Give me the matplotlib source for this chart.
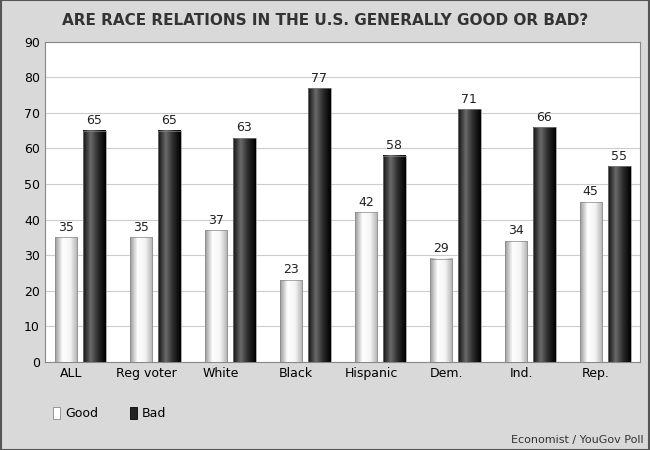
import numpy as np
import matplotlib.pyplot as plt
from matplotlib.colors import LinearSegmentedColormap

categories = ['ALL', 'Reg voter', 'White', 'Black', 'Hispanic', 'Dem.', 'Ind.', 'Rep.']
good = [35, 35, 37, 23, 42, 29, 34, 45]
bad = [65, 65, 63, 77, 58, 71, 66, 55]

fig = plt.figure(figsize=(6.5, 4.5), dpi=100, facecolor='#d9d9d9')
ax = fig.add_axes([0.069, 0.196, 0.916, 0.711])
ax.set_facecolor('white')

cm_good = LinearSegmentedColormap.from_list('g', ['#9a9a9a', '#ffffff', '#f4f4f4', '#b0b0b0'])
cm_bad = LinearSegmentedColormap.from_list('b', ['#111111', '#6a6a6a', '#2a2a2a', '#000000'])
grad = np.linspace(0, 1, 64).reshape(1, -1)

w = 0.3
x = np.arange(len(categories))
for xi, g, b in zip(x, good, bad):
    for pos, val, cm in [(xi - 0.19, g, cm_good), (xi + 0.19, b, cm_bad)]:
        ax.imshow(grad, cmap=cm, aspect='auto', extent=[pos - w / 2, pos + w / 2, 0, val], zorder=3)
        ax.add_patch(plt.Rectangle((pos - w / 2, 0), w, val, fill=False, ec='#888888', lw=0.5, zorder=4))
        ax.text(pos, val + 1, str(val), ha='center', va='bottom', fontsize=9, color='#222222', zorder=5)

ax.set_xlim(-0.47, len(categories) - 0.53)
ax.set_ylim(0, 90)
ax.set_yticks(range(0, 91, 10))
ax.set_xticks(x - 0.12)
ax.set_xticklabels(categories, fontsize=9)
ax.tick_params(axis='y', labelsize=9, length=0)
ax.tick_params(axis='x', length=0)
ax.grid(axis='y', color='#cccccc', lw=0.8, zorder=0)
for s in ax.spines.values():
    s.set_color('#888888')

fig.text(0.5, 0.955, 'ARE RACE RELATIONS IN THE U.S. GENERALLY GOOD OR BAD?', ha='center', va='center',
         fontsize=11, fontweight='bold', color='#333333')

# legend
fig.patches.append(plt.Rectangle((0.082, 0.068), 0.011, 0.028, transform=fig.transFigure,
                                 fc='white', ec='#888888', lw=0.6))
fig.text(0.1, 0.082, 'Good', va='center', fontsize=9)
fig.patches.append(plt.Rectangle((0.2, 0.068), 0.011, 0.028, transform=fig.transFigure,
                                 fc='#222222', ec='#000000', lw=0.6))
fig.text(0.218, 0.082, 'Bad', va='center', fontsize=9)

fig.text(0.99, 0.022, 'Economist / YouGov Poll', ha='right', va='center', fontsize=8, color='#333333')
fig.patches.append(plt.Rectangle((0.001, 0.001), 0.998, 0.998, transform=fig.transFigure,
                                 fill=False, ec='#555555', lw=1.5))

fig.savefig('out.png', dpi=100, facecolor=fig.get_facecolor())
